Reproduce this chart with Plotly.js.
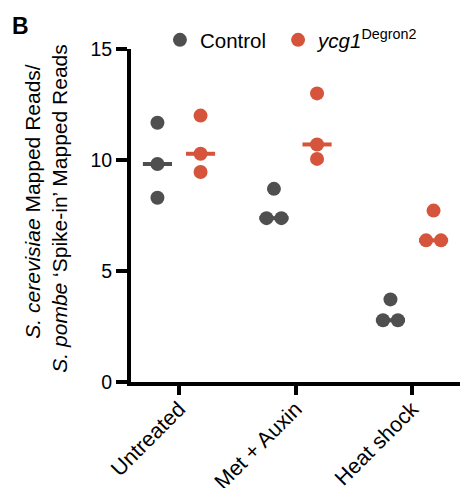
<!DOCTYPE html>
<html>
<head>
<meta charset="utf-8">
<script src="https://cdn.plot.ly/plotly-3.0.1.min.js"></script>
<style>html,body{margin:0;padding:0;background:#fff;}#chart{width:460px;height:488px;}</style>
</head>
<body>
<div id="chart"></div>
<script>
// ---- data ----
var categories = ['Untreated', 'Met + Auxin', 'Heat shock'];
var controlValues = [
  [11.68, 9.82, 8.3],
  [8.7, 7.38, 7.38],
  [3.72, 2.78, 2.78]
];
var ycg1Values = [
  [12.0, 10.28, 9.46],
  [13.0, 10.7, 10.05],
  [7.72, 6.38, 6.38]
];
var seriesNames = ['Control', '<i>ycg1</i><sup>Degron2</sup>'];
var yTickValues = [0, 5, 10, 15];

// ---- styling ----
var FONT = 'Arial, "Liberation Sans", Helvetica, sans-serif';
var GRAY = '#4f4f4f';
var RED = '#d5543b';
var groupOffset = 0.185;
var jitterSpacing = 0.128;
var medianHalf = 0.125;

function median(a) {
  var s = a.slice().sort(function (p, q) { return p - q; });
  return s[Math.floor(s.length / 2)];
}

// simple swarm: identical values are spread symmetrically around the group centre
function swarmX(vals, center) {
  var counts = {}, used = {};
  vals.forEach(function (v) { counts[v] = (counts[v] || 0) + 1; });
  return vals.map(function (v) {
    var n = counts[v];
    var k = used[v] || 0;
    used[v] = k + 1;
    return center + (k - (n - 1) / 2) * jitterSpacing;
  });
}

function buildSeries(valuesByCat, sign, color, name, legendId) {
  var xs = [], ys = [];
  var medTraces = [];
  valuesByCat.forEach(function (vals, ci) {
    var center = ci + sign * groupOffset;
    var sx = swarmX(vals, center);
    vals.forEach(function (v, i) { xs.push(sx[i]); ys.push(v); });
    var m = median(vals);
    medTraces.push({
      x: [center - medianHalf, center + medianHalf],
      y: [m, m],
      mode: 'lines',
      type: 'scatter',
      line: {color: color, width: 4},
      hoverinfo: 'skip',
      showlegend: false
    });
  });
  var pts = {
    x: xs, y: ys,
    mode: 'markers',
    type: 'scatter',
    name: name,
    legend: legendId,
    marker: {color: color, size: 14, line: {width: 0}},
    showlegend: true,
    cliponaxis: false
  };
  return {pts: pts, med: medTraces};
}

var c = buildSeries(controlValues, -1, GRAY, seriesNames[0], 'legend');
var r = buildSeries(ycg1Values, 1, RED, seriesNames[1], 'legend2');
var data = c.med.concat(r.med).concat([c.pts, r.pts]);

function legendAt(xp) {
  return {
    orientation: 'h',
    x: xp, xanchor: 'left',
    y: 1.027, yanchor: 'middle',
    font: {family: FONT, size: 20.5, color: '#000'},
    bgcolor: 'rgba(0,0,0,0)'
  };
}

var layout = {
  width: 460,
  height: 488,
  margin: {l: 131, r: 0, t: 49, b: 106},
  paper_bgcolor: '#fff',
  plot_bgcolor: '#fff',
  font: {family: FONT, color: '#000', size: 19.5},
  showlegend: true,
  legend: legendAt(0.088),
  legend2: legendAt(0.447),
  xaxis: {
    range: [-0.412, 2.412],
    tickmode: 'array',
    tickvals: categories.map(function (_, i) { return i; }),
    ticktext: categories,
    tickangle: -45,
    showgrid: false,
    zeroline: false,
    showline: true,
    linecolor: '#000',
    linewidth: 4,
    ticks: 'outside',
    ticklen: 9,
    tickwidth: 4,
    tickcolor: '#000',
    ticklabelstandoff: -7,
    tickfont: {family: FONT, size: 21.5, color: '#000'},
    fixedrange: true
  },
  yaxis: {
    range: [0, 15],
    tickmode: 'array',
    tickvals: yTickValues,
    ticktext: yTickValues.map(String),
    showgrid: false,
    zeroline: false,
    showline: true,
    linecolor: '#000',
    linewidth: 4,
    ticks: 'outside',
    ticklen: 11,
    tickwidth: 4,
    tickcolor: '#000',
    tickfont: {family: FONT, size: 19.5, color: '#000'},
    fixedrange: true
  },
  annotations: [
    {
      text: '<b>B</b>', xref: 'paper', yref: 'paper', x: 0, y: 1,
      xshift: -121, yshift: 38, xanchor: 'left', yanchor: 'top',
      showarrow: false, font: {family: FONT, size: 23, color: '#000'}
    },
    {
      text: '<i>S. cerevisiae</i> Mapped Reads/', xref: 'paper', yref: 'paper',
      x: 0, y: 0.5416, xshift: -98, textangle: -90, xanchor: 'center', yanchor: 'middle',
      showarrow: false, font: {family: FONT, size: 21, color: '#000'}
    },
    {
      text: '<i>S. pombe</i> ‘Spike-in’ Mapped Reads', xref: 'paper', yref: 'paper',
      x: 0, y: 0.5206, xshift: -71, textangle: -90, xanchor: 'center', yanchor: 'middle',
      showarrow: false, font: {family: FONT, size: 21, color: '#000'}
    }
  ]
};

Plotly.newPlot('chart', data, layout, {displayModeBar: false, staticPlot: true});
</script>
</body>
</html>
